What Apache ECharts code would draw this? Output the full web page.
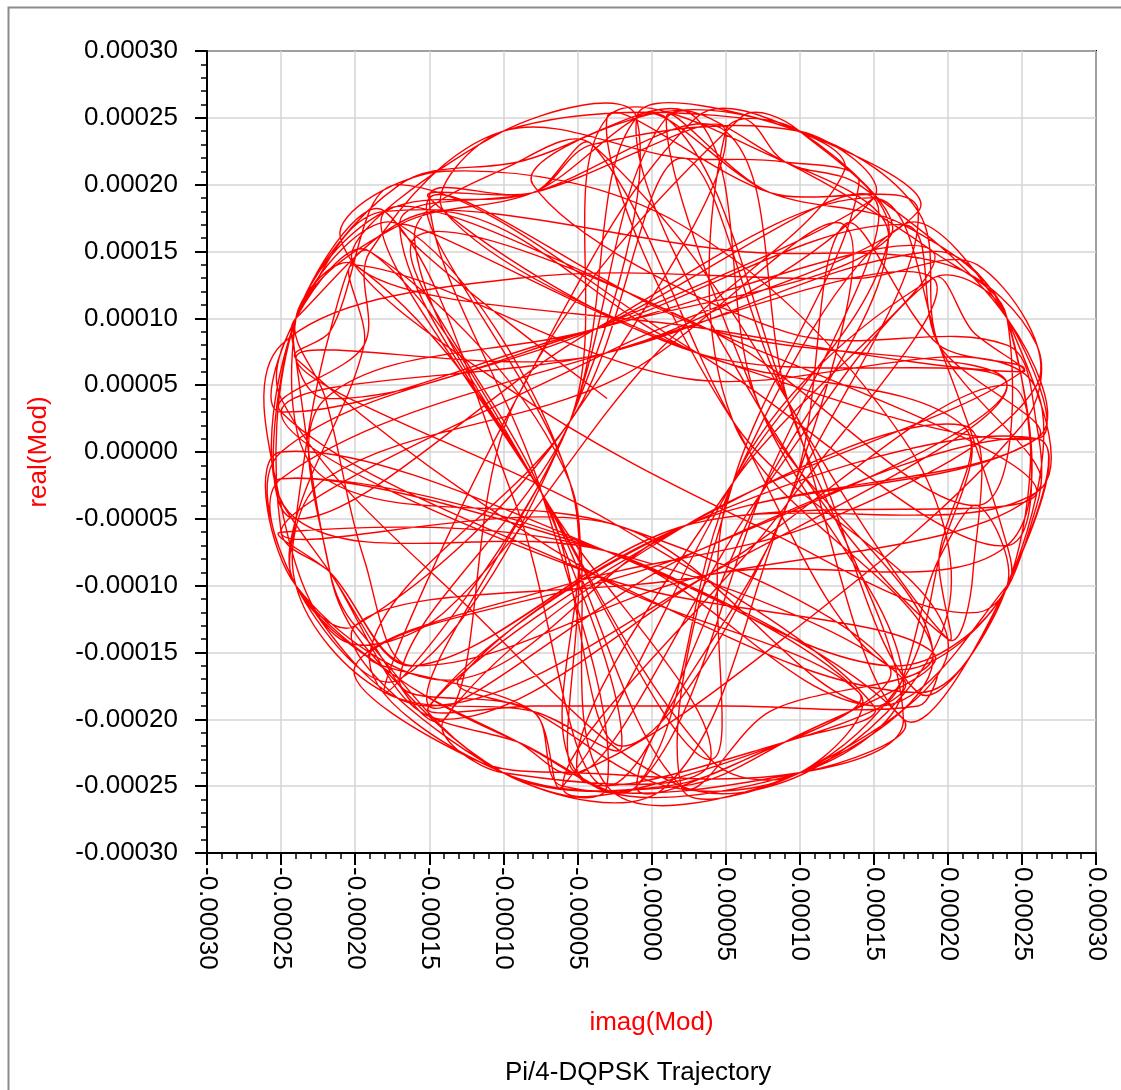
<!DOCTYPE html>
<html>
<head>
<meta charset="utf-8">
<script src="https://cdn.jsdelivr.net/npm/echarts/dist/echarts.min.js"></script>
<style>
  html, body { margin: 0; padding: 0; background: #fff; }
  #chart { width: 1121px; height: 1090px; }
</style>
</head>
<body>
<div id="chart"></div>
<script>
// trajectory points as [imag, real], in units of 1e-5 (in drawing order)
var trace1 = [[-3,4],[-17,17],[3.1,7.4],[26,1],[24,10],[17,17],[5.5,-2.3],[-1,-25],[-9,-21.7],[-17,-17],[-24,-10],[-25,0],[-3.8,9.2],[15,19],[8,19.4],[1,25],[7.4,3.1],[17,-17],[10,-24],[-5,-24],[-5.5,-2.3],[-19,15],[-21.7,9],[-24,-5],[-24,-10],[-15,-19],[3.8,-9.2],[24,5],[3.1,7.4],[-15,19],[-8,19.4],[5,24],[-5.5,2.3],[-19,-15],[-10,-24],[2,-25],[9,-21.7],[19,-15],[-3.8,-9.2],[-25,3]];
var trace2 = [[-3.1,7.4],[19,15],[24,10],[26,-3],[2.3,-5.5],[-16,-16],[-19.4,-8],[-22,4],[-24,10],[-18,18],[-9.2,-3.8],[-3,-25],[7.4,-3.1],[16,16],[9,21.7],[-3,25],[-5.5,2.3],[-18,-18],[-9.2,3.8],[3,25],[10,24],[18,18],[-3.1,7.4],[-25,-6],[-2.3,-5.5],[15,-19],[19.4,-8],[22,-4],[24,-10],[18,-18],[9.2,3.8],[-4,23],[-9,21.7],[-16,16],[-7.4,-3.1],[4,-23],[-10,-24],[-14,-20],[2.3,-5.5],[25,6]];
var trace3 = [[19.4,8],[13,17],[9.2,-3.8],[-2,-22],[-7.4,-3.1],[-20,14],[-24,10],[-22,-2],[-2.3,-5.5],[16,-16],[9,-21.7],[-6,-25],[9.2,-3.8],[19,13],[-3.1,7.4],[-25,-2],[-24,-10],[-20,-13],[-5.5,2.3],[2,22],[9.2,3.8],[20,-14],[19.4,-8],[21,2],[3.1,7.4],[-14,18],[-10,24],[6,25],[9,21.7],[14,20],[24,10],[26,1],[2.3,-5.5],[-13,-17],[-8,-19.4],[1,-25],[10,-24],[14,-18],[-3.8,-9.2],[-24,7]];
var trace4 = [[-21.7,9],[-17,20],[3.1,7.4],[24,-7],[24,10],[17,17],[8,19.4],[-1,25],[-5.5,2.3],[-17,-17],[-24,-10],[-25,0],[-3.8,9.2],[15,19],[7.4,-3.1],[-1,-25],[-9,-21.7],[-15,-19],[2.3,-5.5],[26,1],[24,-10],[17,-20],[9.2,3.8],[1,25],[-8,19.4],[-17,17],[-24,10],[-24,-5],[-3.1,-7.4],[17,-17],[9,-21.7],[-5,-24],[5.5,-2.3],[19,15],[-3.8,9.2],[-25,3],[-24,10],[-19,15],[-7.4,-3.1],[2,-25]];
var trace5 = [[8,-19.4],[19,-15],[5.5,2.3],[5,24],[10,24],[16,16],[-3.8,9.2],[-22,4],[-21.7,-9],[-19,-15],[-10,-24],[-3,-25],[-7.4,-3.1],[-15,19],[-8,19.4],[-4,23],[5.5,2.3],[16,-16],[24,-10],[24,5],[3.8,-9.2],[-14,-20],[-21.7,-9],[-25,-2],[-3.1,-7.4],[17,-20],[10,-24],[-6,-25],[-8,-19.4],[-17,-17],[-5.5,2.3],[-1,25],[-10,24],[-20,14],[3.8,9.2],[25,6],[21.7,9],[19,13],[7.4,-3.1],[-5,-24]];
var trace6 = [[-5.5,-2.3],[-17,17],[-24,10],[-24,-5],[-3.8,9.2],[15,19],[19.4,8],[24,-7],[24,-10],[15,-19],[-3.1,-7.4],[-25,-6],[-21.7,-9],[-16,-16],[2.3,-5.5],[26,-3],[3.8,9.2],[-18,18],[-7.4,-3.1],[4,-23],[10,-24],[20,-14],[5.5,2.3],[-3,25],[8,19.4],[18,18],[9.2,-3.8],[1,-25],[-10,-24],[-20,-13],[-21.7,-9],[-24,7],[-24,10],[-14,18],[3.1,7.4],[21,2],[19.4,-8],[17,-17],[10,-24],[2,-25]];
var trace7 = [[5.5,-2.3],[14,20],[9,21.7],[2,22],[-10,24],[-19,15],[-19.4,8],[-25,3],[-3.8,-9.2],[18,-18],[24,-10],[26,1],[3.1,-7.4],[-15,-19],[-5.5,2.3],[1,25],[9,21.7],[19,15],[24,10],[22,-4],[3.8,9.2],[-16,16],[-7.4,-3.1],[-2,-22],[-8,-19.4],[-18,-18],[-24,-10],[-22,-2],[-2.3,5.5],[13,17],[9.2,-3.8],[-1,-25],[9,-21.7],[14,-18],[-3.1,-7.4],[-25,0],[-24,-10],[-13,-17],[2.3,-5.5],[26,1]];
var trace8 = [[19.4,8],[17,17],[-3.8,9.2],[-22,4],[-24,10],[-17,20],[-9,21.7],[3,25],[7.4,3.1],[19,-15],[10,-24],[-3,-25],[-5.5,-2.3],[-15,19],[3.8,9.2],[24,5],[3.1,-7.4],[-19,-15],[-8,-19.4],[-6,-25],[5.5,-2.3],[16,16],[10,24],[6,25],[-9.2,3.8],[-14,-20],[-21.7,-9],[-25,-2],[-3.1,-7.4],[16,-16],[24,-10],[25,6],[2.3,5.5],[-20,14],[-19.4,8],[-24,-5],[-24,-10],[-17,-17],[-9,-21.7],[-5,-24]];
var trace9 = [[10,-13],[25,2],[26,8],[20,14],[6,15],[-18,18],[-23,12],[-25,4],[-12,-12],[2,-25],[12,-23],[20,-12],[17,1],[2,17],[-14,21],[-21,16],[-10,5],[8,-6],[22,-12],[26,-4],[26,2],[24,8],[9,9],[-8,20],[-1,25],[7,25],[13,21],[0,7],[-14,-12],[-21,-14],[-25,-4],[-25,8],[-9,13],[14,13],[22,14],[26,5],[12,-5],[-6,-10],[-20,-16],[-12,-23],[-5,-24]];
var trace10 = [[10,-24],[17,-20],[9.2,3.8],[5,24],[-8,19.4],[-17,17],[-7.4,-3.1],[4,-23],[5.5,-2.3],[19,13],[24,10],[24,-7],[3.8,-9.2],[-16,-16],[-21.7,-9],[-25,-6],[-24,10],[-18,18],[-8,19.4],[-4,23],[10,24],[15,19],[-3.1,7.4],[-24,7],[-2.3,-5.5],[15,-19],[9,-21.7],[1,-25],[-10,-24],[-20,-13],[3.8,-9.2],[26,-3],[19.4,8],[18,18],[10,24],[-1,25],[7.4,3.1],[20,-14],[21.7,-9],[21,2],[2.3,-5.5],[-15,-19],[-8,-19],[5,-19],[18,-19],[19.3,-16.8]];

var axisMin = -30, axisMax = 30, axisStep = 5;
var xName = 'imag(Mod)', yName = 'real(Mod)';
var titleText = 'Pi/4-DQPSK Trajectory';

var font = 'Liberation Sans, Arial, sans-serif';

function tickLabel(v) {
  if (Math.abs(v) < 1e-9) return '0.00000';
  return (v * 1e-5).toFixed(5);
}

var chart = echarts.init(document.getElementById('chart'));

var axisCommon = {
  type: 'value',
  min: axisMin,
  max: axisMax,
  interval: axisStep,
  nameLocation: 'middle',
  nameTextStyle: { color: '#ff0000', fontSize: 26, fontFamily: font },
  axisLine: { show: true, onZero: false, lineStyle: { color: '#000', width: 2 } },
  axisTick: { show: true, length: 12, lineStyle: { color: '#000', width: 2 } },
  minorTick: { show: true, splitNumber: 5, length: 6, lineStyle: { color: '#000', width: 1.5 } },
  splitLine: { show: true, lineStyle: { color: '#d4d4d4', width: 1.5 } },
  axisLabel: { color: '#000', fontSize: 26, fontFamily: font, formatter: tickLabel }
};

var trace = trace1.concat(trace2, trace3, trace4, trace5, trace6, trace7, trace8, trace9, trace10);

chart.setOption({
  animation: false,
  backgroundColor: '#fff',
  grid: { left: 207, top: 51, right: 25, bottom: 237, show: true, borderColor: '#000', borderWidth: 2 },
  xAxis: echarts.util.merge({
    name: xName,
    nameGap: 157,
    axisLabel: { rotate: -90, margin: 14 }
  }, axisCommon),
  yAxis: echarts.util.merge({
    name: yName,
    nameGap: 155,
    nameRotate: 90,
    axisLabel: { margin: 29 }
  }, axisCommon),
  series: [{
    // one smooth polyline through every point, placed with the axis scales
    type: 'custom',
    coordinateSystem: 'cartesian2d',
    data: trace,
    encode: { x: 0, y: 1 },
    clip: true,
    renderItem: function (params, api) {
      if (params.dataIndex !== 0) return null;
      var pts = [];
      for (var i = 0; i < trace.length; i++) {
        pts.push(api.coord(trace[i]));
      }
      return {
        type: 'polyline',
        shape: { points: pts, smooth: 0.35 },
        style: { stroke: '#ff0000', lineWidth: 1.4, fill: null }
      };
    }
  }],
  graphic: [
    { type: 'rect', left: 6, top: 5, shape: { width: 1200, height: 1200 }, style: { fill: 'none', stroke: '#8c8c8c', lineWidth: 2 } },
    { type: 'text', left: 505, top: 1060, style: { text: titleText, fill: '#000', font: '26px ' + font } }
  ]
});
</script>
</body>
</html>
